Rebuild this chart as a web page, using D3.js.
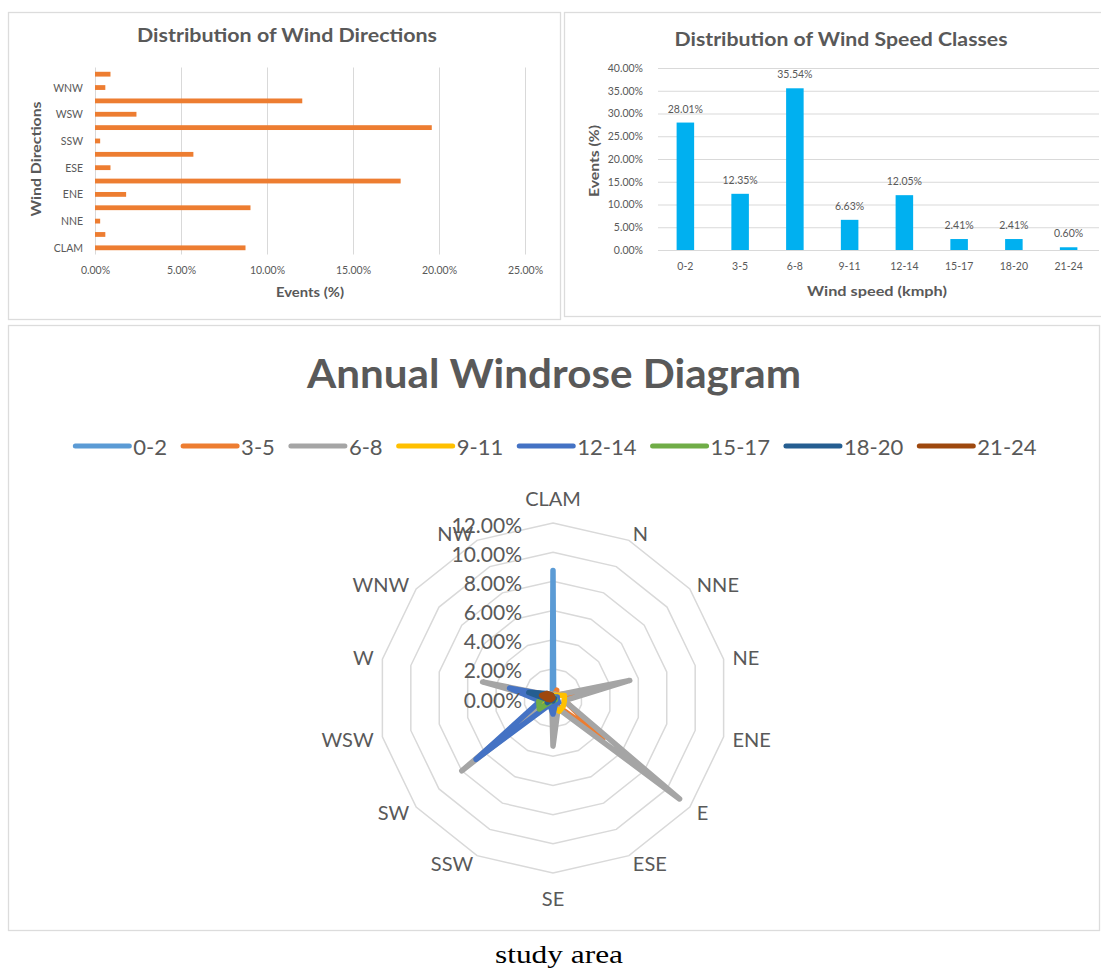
<!DOCTYPE html>
<html><head><meta charset="utf-8">
<script src="https://cdn.jsdelivr.net/npm/d3@7"></script>
<style>
html,body{margin:0;padding:0;background:#fff;}
svg{display:block;}
text{font-family:Lato,'Open Sans',sans-serif;fill:#595959;}
</style></head><body>
<svg id="c" width="1101" height="972"></svg>
<script>
// ---------------- data ----------------
const directions = ["CLAM","N","NNE","NE","ENE","E","ESE","SE","SSW","SW","WSW","W","WNW","NW"];
const directionPct = [8.75,0.60,0.30,9.04,1.81,17.77,0.90,5.72,0.30,19.58,2.41,12.05,0.60,0.90];
const dirTicks = [0,5,10,15,20,25];

const speedClasses = ["0-2","3-5","6-8","9-11","12-14","15-17","18-20","21-24"];
const speedPct = [28.01,12.35,35.54,6.63,12.05,2.41,2.41,0.60];
const speedTicks = [0,5,10,15,20,25,30,35,40];

const radarTicks = [0,2,4,6,8,10,12];
// windrose series (order of directions above), % of events
const rose_0_2   = [8.75,0.10,0.10,0.15,0.10,0.15,0.10,0.15,0.10,0.15,0.10,0.15,0.10,0.10];
const rose_3_5   = [0,0.60,0.30,2.20,0.80,4.40,0.60,0.90,0.10,0.50,0.40,0.50,0.20,0.30];
const rose_6_8   = [0,0.30,0.30,5.40,0.80,11.10,0.80,3.30,0.20,8.00,0.50,4.95,0.30,0.30];
const rose_9_11  = [0,0.20,0.30,0.80,0.80,0.90,1.00,0.60,0.20,0.80,0.40,0.60,0.20,0.20];
const rose_12_14 = [0,0.10,0.10,0.30,0.30,0.50,0.40,1.10,0.50,6.75,0.90,3.05,0.30,0.20];
const rose_15_17 = [0,0,0,0.10,0.10,0.20,0.10,0.20,0.20,1.20,1.00,0.40,0.10,0];
const rose_18_20 = [0,0,0,0,0.10,0.10,0.10,0.20,0.10,0.50,0.40,1.70,0.50,0.20];
const rose_21_24 = [0,0,0,0,0,0,0,0,0,0.20,0.40,0.80,0.50,0.20];
const roseSeries = [rose_0_2,rose_3_5,rose_6_8,rose_9_11,rose_12_14,rose_15_17,rose_18_20,rose_21_24];
const roseColors = ["#5B9BD5","#ED7D31","#A5A5A5","#FFC000","#4472C4","#70AD47","#255E91","#9E480E"];

// ---------------- drawing ----------------
const svg = d3.select("#c");
const GRID = "#d9d9d9";
const pct = d => d.toFixed(2) + "%";
function fit(sel, len){ return sel.attr("textLength", len).attr("lengthAdjust", "spacingAndGlyphs"); }
function panel(x0,y0,x1,y1){
  svg.append("rect").attr("x",x0+0.5).attr("y",y0+0.5).attr("width",x1-x0).attr("height",y1-y0)
    .attr("fill","#fff").attr("stroke","#dcdcdc").attr("stroke-width",1.3);
}
panel(8,12,560,319);
panel(564,12,1103,316);
panel(8,325,1099,930);

// ---- Chart 1: wind directions ----
{
  const P = {x0:95, x1:525, y0:67.5, y1:254.5};
  const x = d3.scaleLinear().domain([0,25]).range([P.x0,P.x1]);
  const y = d3.scalePoint().domain(directions.slice().reverse()).range([P.y0,P.y1]).padding(0.5);
  const g = svg.append("g");
  const ax = g.append("g").attr("transform",`translate(0,${P.y1})`)
    .call(d3.axisBottom(x).tickValues(dirTicks).tickSize(-(P.y1-P.y0)).tickPadding(12).tickFormat(pct));
  ax.select(".domain").remove();
  ax.selectAll(".tick line").attr("stroke",GRID).attr("stroke-width",1);
  ax.selectAll(".tick text").attr("font-size",10.5).attr("fill","#595959").attr("font-family","Lato,'Open Sans',sans-serif");
  g.selectAll("rect.bar").data(directions).join("rect").attr("class","bar")
    .attr("x", x(0)).attr("y", d => y(d) - 2.4)
    .attr("width", (d,i) => x(directionPct[i]) - x(0)).attr("height", 4.8)
    .attr("fill","#ED7D31");
  g.selectAll("text.yl").data(directions.filter((d,i)=>i%2===0)).join("text").attr("class","yl")
    .attr("x",83).attr("y",d=>y(d)).attr("dominant-baseline","central").attr("text-anchor","end")
    .attr("font-size",10.5).text(d=>d);
  fit(g.append("text").attr("x",287).attr("y",42).attr("text-anchor","middle")
    .attr("font-size",18).attr("font-weight","bold").text("Distribution of Wind Directions"),300);
  fit(g.append("text").attr("x",(P.x0+P.x1)/2).attr("y",297).attr("text-anchor","middle")
    .attr("font-size",12.5).attr("font-weight","bold").text("Events (%)"),68);
  fit(g.append("text").attr("transform","translate(41,159) rotate(-90)").attr("text-anchor","middle")
    .attr("font-size",13.5).attr("font-weight","bold").text("Wind Directions"),115);
}

// ---- Chart 2: wind speed classes ----
{
  const P = {x0:658, x1:1096, y0:68, y1:250};
  const x = d3.scaleBand().domain(speedClasses).range([P.x0,P.x1]).paddingInner(0.68).paddingOuter(0.34);
  const y = d3.scaleLinear().domain([0,40]).range([P.y1,P.y0]);
  const g = svg.append("g");
  const ay = g.append("g").attr("transform",`translate(${P.x0},0)`)
    .call(d3.axisLeft(y).tickValues(speedTicks).tickSize(-(1099-P.x0)).tickPadding(15).tickFormat(pct));
  ay.select(".domain").remove();
  ay.selectAll(".tick line").attr("stroke",GRID).attr("stroke-width",1);
  ay.selectAll(".tick text").attr("font-size",10.5).attr("fill","#595959").attr("font-family","Lato,'Open Sans',sans-serif");
  g.selectAll("rect.bar").data(speedClasses).join("rect").attr("class","bar")
    .attr("x", d => x(d)).attr("width", x.bandwidth())
    .attr("y", (d,i) => y(speedPct[i])).attr("height", (d,i) => y(0) - y(speedPct[i]))
    .attr("fill","#00B0F0");
  g.selectAll("text.dl").data(speedClasses).join("text").attr("class","dl")
    .attr("x", d => x(d) + x.bandwidth()/2).attr("y", (d,i) => y(speedPct[i]) - 14)
    .attr("text-anchor","middle").attr("dominant-baseline","central").attr("font-size",10.5)
    .text((d,i)=>pct(speedPct[i]));
  g.selectAll("text.xl").data(speedClasses).join("text").attr("class","xl")
    .attr("x", d => x(d) + x.bandwidth()/2).attr("y", 266)
    .attr("text-anchor","middle").attr("dominant-baseline","central").attr("font-size",10.5).text(d=>d);
  fit(g.append("text").attr("x",841).attr("y",46).attr("text-anchor","middle")
    .attr("font-size",18).attr("font-weight","bold").text("Distribution of Wind Speed Classes"),333);
  fit(g.append("text").attr("x",(P.x0+P.x1)/2).attr("y",295.5).attr("text-anchor","middle")
    .attr("font-size",14).attr("font-weight","bold").text("Wind speed (kmph)"),140);
  fit(g.append("text").attr("transform","translate(599,161) rotate(-90)").attr("text-anchor","middle")
    .attr("font-size",13).attr("font-weight","bold").text("Events (%)"),72);
}

// ---- Chart 3: windrose radar ----
{
  const cx = 553, cy = 698;
  const r = d3.scaleLinear().domain([0,12]).range([0,175]);
  const n = directions.length;
  const ang = i => i * 2 * Math.PI / n;
  const g = svg.append("g");
  fit(g.append("text").attr("x",554).attr("y",388).attr("text-anchor","middle")
    .attr("font-size",40).attr("font-weight","bold").text("Annual Windrose Diagram"),494);

  // legend
  const lg = g.append("g");
  let lx = 0;
  speedClasses.forEach((s,i) => {
    lg.append("line").attr("x1",lx+2).attr("x2",lx+56).attr("y1",0).attr("y2",0)
      .attr("stroke",roseColors[i]).attr("stroke-width",5).attr("stroke-linecap","round");
    const t = lg.append("text").attr("x",lx+60).attr("y",0).attr("dominant-baseline","central")
      .attr("font-size",21).text(s);
    const w = t.node().getComputedTextLength() * 1.05;
    fit(t, w);
    lx += 60 + w + 14;
  });
  lx -= 14;
  lg.attr("transform",`translate(${555 - lx/2},446)`);

  const rg = g.append("g").attr("transform",`translate(${cx},${cy})`);
  radarTicks.slice(1).forEach(t => {
    rg.append("path")
      .attr("d", d3.lineRadial().angle((d,i)=>ang(i)).radius(r(t)).curve(d3.curveLinearClosed)(directions))
      .attr("fill","none").attr("stroke",GRID).attr("stroke-width",1.5);
  });
  roseSeries.forEach((vals,si) => {
    rg.append("path")
      .attr("d", d3.lineRadial().angle((d,i)=>ang(i)).radius(d=>r(d)).curve(d3.curveLinearClosed)(vals))
      .attr("fill","none").attr("stroke",roseColors[si]).attr("stroke-width",5.5)
      .attr("stroke-linejoin","round").attr("stroke-linecap","round");
  });
  // category labels
  directions.forEach((d,i) => {
    const a = ang(i), s = Math.sin(a), c = Math.cos(a);
    const vx = r(12)*s, vy = -r(12)*c;
    const t = rg.append("text").attr("font-size",20).attr("dominant-baseline","central").text(d);
    if (Math.abs(s) < 0.01) {
      t.attr("x",vx).attr("y", vy - Math.sign(c)*25).attr("text-anchor","middle");
    } else {
      t.attr("x", vx + 9*s).attr("y", vy - 8*c).attr("text-anchor", s > 0 ? "start" : "end");
    }
  });
  // radial axis labels
  rg.selectAll("text.tk").data(radarTicks).join("text").attr("class","tk")
    .attr("x",-31).attr("y",d=>-r(d)+1).attr("text-anchor","end").attr("dominant-baseline","central")
    .attr("font-size",21).text(pct);
}

// caption
fit(svg.append("text").attr("x",559).attr("y",963).attr("text-anchor","middle")
  .attr("font-family","'Liberation Serif','Times New Roman',serif").style("font-family","'Liberation Serif','Times New Roman',serif")
  .attr("font-size",25).style("fill","#000").text("study area"),128);
</script>
</body></html>
